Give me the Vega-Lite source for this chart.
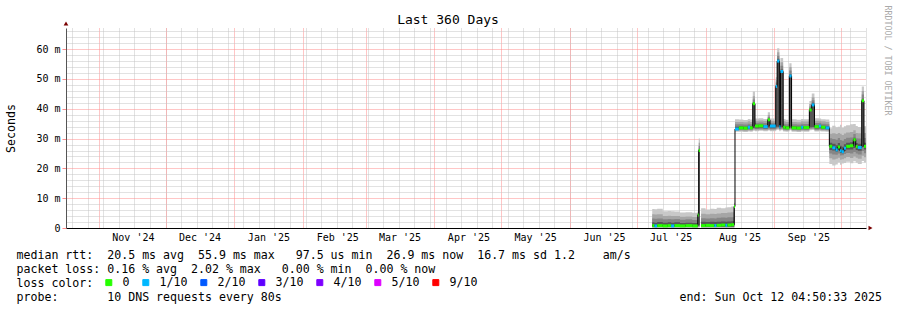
{
  "$schema": "https://vega.github.io/schema/vega-lite/v6.json",
  "width": 800,
  "height": 200,
  "autosize": {"type": "none"},
  "padding": {"left": 66, "top": 28, "right": 31, "bottom": 82},
  "background": "white",
  "config": {
    "view": {"stroke": null},
    "font": "DejaVu Sans Mono",
    "axis": {"labelFont": "DejaVu Sans Mono", "titleFont": "DejaVu Sans Mono"},
    "legend": {"labelFont": "DejaVu Sans Mono", "titleFont": "DejaVu Sans Mono"}
  },
  "data": {
    "format": {"parse": {"t": "date"}},
    "values": [
      {"t":"2025-07-08T00:00:00","med":0.8,"loss":"0","a1":0.05,"a2":0.15,"a3":0.3,"a4":0.45,"b4":1.9,"b3":3.2,"b2":4.6,"b1":6.4},
      {"t":"2025-07-09T00:00:00","med":0.7,"loss":"1/10","a1":0.05,"a2":0.15,"a3":0.3,"a4":0.45,"b4":1.8,"b3":3.1,"b2":4.5,"b1":6.3},
      {"t":"2025-07-10T06:00:00","med":0.8,"loss":"0","a1":0.05,"a2":0.15,"a3":0.3,"a4":0.45,"b4":2.0,"b3":3.2,"b2":4.6,"b1":6.5},
      {"t":"2025-07-12T18:00:00","med":0.7,"loss":"0","a1":0.05,"a2":0.15,"a3":0.3,"a4":0.45,"b4":1.8,"b3":2.9,"b2":4.0,"b1":5.6},
      {"t":"2025-07-15T00:00:00","med":0.8,"loss":"0","a1":0.05,"a2":0.15,"a3":0.3,"a4":0.45,"b4":1.9,"b3":3.0,"b2":4.1,"b1":5.7},
      {"t":"2025-07-16T12:00:00","med":0.7,"loss":"1/10","a1":0.05,"a2":0.15,"a3":0.3,"a4":0.45,"b4":1.8,"b3":2.9,"b2":4.0,"b1":5.6},
      {"t":"2025-07-18T00:00:00","med":0.8,"loss":"0","a1":0.05,"a2":0.15,"a3":0.3,"a4":0.45,"b4":1.9,"b3":3.0,"b2":4.0,"b1":5.5},
      {"t":"2025-07-20T12:00:00","med":0.7,"loss":"0","a1":0.05,"a2":0.15,"a3":0.3,"a4":0.45,"b4":1.7,"b3":2.8,"b2":3.8,"b1":5.2},
      {"t":"2025-07-23T00:00:00","med":0.8,"loss":"0","a1":0.05,"a2":0.15,"a3":0.3,"a4":0.45,"b4":1.8,"b3":2.9,"b2":3.9,"b1":5.3},
      {"t":"2025-07-26T00:00:00","med":0.7,"loss":"0","a1":0.05,"a2":0.15,"a3":0.3,"a4":0.45,"b4":1.7,"b3":2.7,"b2":3.7,"b1":5.1},
      {"t":"2025-07-28T12:00:00","med":4.4,"loss":"0","a1":0.1,"a2":0.3,"a3":0.5,"a4":0.8,"b4":4.7,"b3":5.0,"b2":5.4,"b1":5.8},
      {"t":"2025-07-28T22:00:00","med":26.0,"loss":"0","a1":0.2,"a2":0.4,"a3":0.7,"a4":1.0,"b4":26.6,"b3":27.6,"b2":28.6,"b1":30.0},
      {"t":"2025-07-29T12:00:00","med":26.0,"loss":"0","a1":0.2,"a2":0.4,"a3":0.7,"a4":1.0,"b4":26.6,"b3":27.6,"b2":28.6,"b1":30.0},
      {"t":"2025-07-29T13:00:00","med":null,"loss":null,"a1":null,"a2":null,"a3":null,"a4":null,"b4":null,"b3":null,"b2":null,"b1":null},
      {"t":"2025-07-30T00:00:00","med":0.8,"loss":"0","a1":0.05,"a2":0.15,"a3":0.3,"a4":0.45,"b4":2.1,"b3":3.3,"b2":4.8,"b1":6.6},
      {"t":"2025-08-01T00:00:00","med":0.9,"loss":"0","a1":0.05,"a2":0.15,"a3":0.3,"a4":0.45,"b4":2.0,"b3":3.2,"b2":4.6,"b1":6.2},
      {"t":"2025-08-03T00:00:00","med":0.8,"loss":"0","a1":0.05,"a2":0.15,"a3":0.3,"a4":0.45,"b4":2.1,"b3":3.3,"b2":4.8,"b1":6.5},
      {"t":"2025-08-05T00:00:00","med":0.8,"loss":"1/10","a1":0.05,"a2":0.15,"a3":0.3,"a4":0.45,"b4":2.0,"b3":3.2,"b2":4.7,"b1":6.4},
      {"t":"2025-08-06T00:00:00","med":0.9,"loss":"0","a1":0.05,"a2":0.15,"a3":0.3,"a4":0.45,"b4":2.1,"b3":3.4,"b2":4.9,"b1":6.8},
      {"t":"2025-08-08T00:00:00","med":1.0,"loss":"0","a1":0.05,"a2":0.15,"a3":0.3,"a4":0.45,"b4":2.2,"b3":3.5,"b2":5.0,"b1":6.6},
      {"t":"2025-08-09T22:00:00","med":0.9,"loss":"1/10","a1":0.05,"a2":0.15,"a3":0.3,"a4":0.45,"b4":2.1,"b3":3.4,"b2":5.0,"b1":6.9},
      {"t":"2025-08-10T20:00:00","med":1.0,"loss":"0","a1":0.05,"a2":0.15,"a3":0.3,"a4":0.45,"b4":2.2,"b3":3.6,"b2":5.2,"b1":7.0},
      {"t":"2025-08-12T12:00:00","med":1.1,"loss":"0","a1":0.05,"a2":0.15,"a3":0.3,"a4":0.45,"b4":2.3,"b3":3.6,"b2":5.3,"b1":7.2},
      {"t":"2025-08-13T20:00:00","med":7.2,"loss":"0","a1":0.2,"a2":0.5,"a3":0.8,"a4":1.2,"b4":7.5,"b3":7.8,"b2":8.1,"b1":8.5},
      {"t":"2025-08-14T06:00:00","med":33.2,"loss":"1/10","a1":32.3,"a2":32.6,"a3":32.9,"a4":33.1,"b4":34.0,"b3":34.8,"b2":35.6,"b1":36.5},
      {"t":"2025-08-16T00:00:00","med":33.6,"loss":"0","a1":32.3,"a2":32.6,"a3":32.9,"a4":33.2,"b4":34.1,"b3":34.8,"b2":35.6,"b1":36.4},
      {"t":"2025-08-18T00:00:00","med":33.5,"loss":"0","a1":32.2,"a2":32.5,"a3":32.9,"a4":33.2,"b4":34.0,"b3":34.7,"b2":35.5,"b1":36.2},
      {"t":"2025-08-20T00:00:00","med":33.8,"loss":"1/10","a1":32.4,"a2":32.7,"a3":33.0,"a4":33.3,"b4":34.3,"b3":35.0,"b2":35.8,"b1":36.6},
      {"t":"2025-08-21T00:00:00","med":33.6,"loss":"0","a1":32.3,"a2":32.6,"a3":32.9,"a4":33.2,"b4":34.1,"b3":34.8,"b2":35.6,"b1":36.4},
      {"t":"2025-08-22T06:00:00","med":41.7,"loss":"0","a1":32.6,"a2":33.0,"a3":33.3,"a4":33.6,"b4":42.2,"b3":43.1,"b2":44.2,"b1":45.8},
      {"t":"2025-08-23T06:00:00","med":34.2,"loss":"0","a1":32.5,"a2":32.8,"a3":33.2,"a4":33.5,"b4":34.6,"b3":35.3,"b2":36.0,"b1":36.7},
      {"t":"2025-08-25T00:00:00","med":34.3,"loss":"0","a1":32.6,"a2":32.9,"a3":33.2,"a4":33.6,"b4":34.7,"b3":35.4,"b2":36.1,"b1":36.8},
      {"t":"2025-08-27T00:00:00","med":34.0,"loss":"1/10","a1":32.5,"a2":32.8,"a3":33.1,"a4":33.4,"b4":34.5,"b3":35.2,"b2":35.9,"b1":36.6},
      {"t":"2025-08-29T00:00:00","med":36.3,"loss":"0","a1":32.7,"a2":33.0,"a3":33.3,"a4":33.7,"b4":36.7,"b3":37.2,"b2":37.9,"b1":38.8},
      {"t":"2025-08-30T00:00:00","med":34.2,"loss":"1/10","a1":32.5,"a2":32.8,"a3":33.1,"a4":33.5,"b4":34.6,"b3":35.3,"b2":36.0,"b1":36.7},
      {"t":"2025-09-01T14:00:00","med":47.5,"loss":"1/10","a1":32.8,"a2":33.1,"a3":33.4,"a4":33.8,"b4":48.0,"b3":48.8,"b2":49.6,"b1":50.6},
      {"t":"2025-09-02T05:00:00","med":56.0,"loss":"1/10","a1":33.0,"a2":33.3,"a3":33.6,"a4":34.0,"b4":56.8,"b3":57.8,"b2":59.0,"b1":60.3},
      {"t":"2025-09-03T05:00:00","med":34.0,"loss":"1/10","a1":32.5,"a2":32.8,"a3":33.1,"a4":33.4,"b4":34.4,"b3":35.1,"b2":35.9,"b1":36.6},
      {"t":"2025-09-03T17:00:00","med":52.5,"loss":"1/10","a1":32.8,"a2":33.1,"a3":33.4,"a4":33.8,"b4":53.2,"b3":54.4,"b2":55.6,"b1":57.0},
      {"t":"2025-09-04T22:00:00","med":33.8,"loss":"0","a1":32.4,"a2":32.7,"a3":33.0,"a4":33.3,"b4":34.3,"b3":35.0,"b2":35.8,"b1":36.6},
      {"t":"2025-09-06T00:00:00","med":33.6,"loss":"0","a1":32.3,"a2":32.6,"a3":32.9,"a4":33.2,"b4":34.1,"b3":34.8,"b2":35.6,"b1":36.3},
      {"t":"2025-09-07T17:00:00","med":51.0,"loss":"1/10","a1":32.8,"a2":33.1,"a3":33.4,"a4":33.7,"b4":51.6,"b3":52.8,"b2":54.0,"b1":55.3},
      {"t":"2025-09-08T17:00:00","med":33.6,"loss":"0","a1":32.3,"a2":32.6,"a3":32.9,"a4":33.2,"b4":34.1,"b3":34.8,"b2":35.6,"b1":36.5},
      {"t":"2025-09-11T00:00:00","med":33.5,"loss":"0","a1":32.2,"a2":32.5,"a3":32.9,"a4":33.2,"b4":34.0,"b3":34.7,"b2":35.5,"b1":36.3},
      {"t":"2025-09-13T00:00:00","med":33.8,"loss":"1/10","a1":32.4,"a2":32.7,"a3":33.0,"a4":33.3,"b4":34.3,"b3":35.0,"b2":35.8,"b1":36.6},
      {"t":"2025-09-14T00:00:00","med":33.7,"loss":"0","a1":32.3,"a2":32.6,"a3":32.9,"a4":33.2,"b4":34.2,"b3":34.9,"b2":35.7,"b1":36.5},
      {"t":"2025-09-16T17:00:00","med":39.6,"loss":"0","a1":32.8,"a2":33.1,"a3":33.4,"a4":33.8,"b4":40.1,"b3":40.8,"b2":41.6,"b1":42.6},
      {"t":"2025-09-17T19:00:00","med":41.3,"loss":"1/10","a1":32.9,"a2":33.2,"a3":33.5,"a4":33.9,"b4":42.0,"b3":42.9,"b2":43.9,"b1":45.1},
      {"t":"2025-09-19T00:00:00","med":34.0,"loss":"0","a1":32.4,"a2":32.7,"a3":33.0,"a4":33.4,"b4":34.5,"b3":35.2,"b2":36.0,"b1":36.8},
      {"t":"2025-09-21T00:00:00","med":34.2,"loss":"1/10","a1":32.5,"a2":32.8,"a3":33.1,"a4":33.5,"b4":34.6,"b3":35.3,"b2":36.0,"b1":36.7},
      {"t":"2025-09-22T00:00:00","med":33.8,"loss":"0","a1":32.4,"a2":32.7,"a3":33.0,"a4":33.3,"b4":34.3,"b3":35.0,"b2":35.8,"b1":36.5},
      {"t":"2025-09-24T00:00:00","med":33.6,"loss":"1/10","a1":32.3,"a2":32.6,"a3":32.9,"a4":33.2,"b4":34.1,"b3":34.8,"b2":35.6,"b1":36.4},
      {"t":"2025-09-25T17:00:00","med":27.4,"loss":"0","a1":21.5,"a2":23.4,"a3":25.0,"a4":26.2,"b4":28.6,"b3":30.1,"b2":31.6,"b1":33.5},
      {"t":"2025-09-27T00:00:00","med":26.9,"loss":"1/10","a1":21.0,"a2":23.0,"a3":24.7,"a4":26.0,"b4":28.3,"b3":29.9,"b2":31.8,"b1":34.3},
      {"t":"2025-09-28T12:00:00","med":26.2,"loss":"1/10","a1":21.3,"a2":23.2,"a3":24.6,"a4":25.6,"b4":27.8,"b3":29.6,"b2":31.5,"b1":33.8},
      {"t":"2025-09-29T12:00:00","med":27.2,"loss":"0","a1":22.0,"a2":23.6,"a3":25.0,"a4":26.1,"b4":28.5,"b3":30.2,"b2":31.9,"b1":34.0},
      {"t":"2025-09-30T12:00:00","med":25.9,"loss":"1/10","a1":21.2,"a2":22.9,"a3":24.3,"a4":25.2,"b4":27.6,"b3":29.5,"b2":31.6,"b1":34.6},
      {"t":"2025-10-01T06:00:00","med":25.6,"loss":"1/10","a1":21.6,"a2":23.1,"a3":24.4,"a4":25.1,"b4":27.3,"b3":29.3,"b2":31.2,"b1":33.6},
      {"t":"2025-10-02T06:00:00","med":26.8,"loss":"1/10","a1":21.8,"a2":23.4,"a3":24.8,"a4":25.8,"b4":28.1,"b3":29.9,"b2":31.7,"b1":34.1},
      {"t":"2025-10-03T06:00:00","med":27.4,"loss":"0","a1":22.2,"a2":23.8,"a3":25.2,"a4":26.3,"b4":28.6,"b3":30.3,"b2":32.0,"b1":34.5},
      {"t":"2025-10-05T00:00:00","med":27.6,"loss":"0","a1":21.7,"a2":23.5,"a3":25.0,"a4":26.3,"b4":28.8,"b3":30.4,"b2":32.2,"b1":34.8},
      {"t":"2025-10-06T12:00:00","med":29.6,"loss":"0","a1":22.4,"a2":24.0,"a3":25.5,"a4":26.8,"b4":30.3,"b3":31.5,"b2":32.8,"b1":34.9},
      {"t":"2025-10-07T14:00:00","med":27.3,"loss":"0","a1":21.9,"a2":23.6,"a3":25.0,"a4":26.2,"b4":28.5,"b3":30.1,"b2":31.9,"b1":34.2},
      {"t":"2025-10-08T12:00:00","med":27.0,"loss":"1/10","a1":21.5,"a2":23.2,"a3":24.7,"a4":25.9,"b4":28.3,"b3":30.0,"b2":31.8,"b1":33.9},
      {"t":"2025-10-10T07:00:00","med":42.7,"loss":"0","a1":22.5,"a2":24.2,"a3":25.8,"a4":27.2,"b4":43.4,"b3":44.8,"b2":46.0,"b1":47.5},
      {"t":"2025-10-11T07:00:00","med":27.4,"loss":"0","a1":22.0,"a2":23.7,"a3":25.1,"a4":26.3,"b4":28.6,"b3":30.2,"b2":31.9,"b1":34.1},
      {"t":"2025-10-12T04:50:33","med":27.4,"loss":"0","a1":22.0,"a2":23.7,"a3":25.1,"a4":26.3,"b4":28.6,"b3":30.2,"b2":31.9,"b1":34.1}
    ]
  },
  "layer": [
    {
      "mark": {"type": "area", "interpolate": "step-after", "color": "#c8c8c8", "invalid": "break-paths-show-domains"},
      "encoding": {
        "x": {
          "field": "t", "type": "temporal",
          "scale": {"domain": [{"year": 2024, "month": 10, "date": 17, "hours": 4, "minutes": 50, "seconds": 33}, {"year": 2025, "month": 10, "date": 12, "hours": 4, "minutes": 50, "seconds": 33}], "nice": false},
          "axis": {"orient": "bottom", "tickCount": {"interval": "week", "step": 1}, "grid": true, "gridColor": "#c4c4c4", "gridDash": [1, 1], "labels": false, "ticks": false, "domain": false, "title": null}
        },
        "y": {
          "field": "a1", "type": "quantitative",
          "scale": {"domain": [0, 67.1], "nice": false, "zero": false},
          "axis": {
            "orient": "left",
            "values": [0, 10, 20, 30, 40, 50, 60],
            "grid": true, "gridColor": "#ff8c8c", "gridDash": [1, 1],
            "ticks": true, "tickSize": 4, "tickColor": "#ff8c8c",
            "domain": true, "domainColor": "#555555",
            "labelExpr": "datum.value === 0 ? '0' : datum.value + ' m'",
            "labelFontSize": 10, "labelColor": "black", "labelPadding": 2, "labelOverlap": false, "labelBound": false,
            "title": "Seconds", "titleFontSize": 11.6, "titleFontWeight": "normal", "titleColor": "black",
            "titleX": -55, "titleY": 100, "titleAngle": 270, "titleAlign": "center", "titleBaseline": "middle"
          }
        },
        "y2": {"field": "b1"}
      }
    },
    {
      "mark": {"type": "area", "interpolate": "step-after", "color": "#a6a6a6", "invalid": "break-paths-show-domains"},
      "encoding": {
        "x": {
          "field": "t", "type": "temporal",
          "axis": {"orient": "top", "labels": false, "ticks": false, "domain": false, "grid": false,
            "title": "Last 360 Days", "titleFontSize": 13, "titleFontWeight": "normal", "titleColor": "black",
            "titleX": 381.5, "titleY": -5, "titleAlign": "center", "titleBaseline": "alphabetic", "titleAngle": 0}
        },
        "y": {
          "field": "a2", "type": "quantitative",
          "axis": {
            "orient": "left",
            "values": [2, 4, 6, 8, 12, 14, 16, 18, 22, 24, 26, 28, 32, 34, 36, 38, 42, 44, 46, 48, 52, 54, 56, 58, 62, 64, 66],
            "grid": true, "gridColor": "#c4c4c4", "gridDash": [1, 1],
            "labels": false, "ticks": false, "domain": false, "title": null
          }
        },
        "y2": {"field": "b2"}
      }
    },
    {
      "mark": {"type": "area", "interpolate": "step-after", "color": "#868686", "invalid": "break-paths-show-domains"},
      "encoding": {
        "x": {"field": "t", "type": "temporal", "axis": null},
        "y": {"field": "a3", "type": "quantitative", "axis": null},
        "y2": {"field": "b3"}
      }
    },
    {
      "mark": {"type": "area", "interpolate": "step-after", "color": "#575757", "invalid": "break-paths-show-domains"},
      "encoding": {
        "x": {"field": "t", "type": "temporal", "axis": null},
        "y": {"field": "a4", "type": "quantitative", "axis": null},
        "y2": {"field": "b4"}
      }
    },
    {
      "mark": {"type": "line", "interpolate": "step-after", "color": "#000000", "strokeWidth": 1, "invalid": "break-paths-show-domains"},
      "encoding": {
        "x": {
          "field": "t", "type": "temporal",
          "axis": {
            "orient": "bottom", "tickCount": {"interval": "month", "step": 1},
            "grid": true, "gridColor": "#ff8c8c", "gridDash": [1, 1],
            "ticks": false, "domain": true, "domainColor": "#000000", "domainWidth": 1,
            "labelExpr": "datum.value >= datetime(2025, 9, 1) ? '' : timeFormat(datum.value, \"%b '%y\")",
            "labelOffset": 34, "labelFlush": false, "labelOverlap": false, "labelBound": false,
            "labelPadding": 4, "labelFontSize": 10, "labelColor": "black",
            "title": [
              "median rtt:\u00a0\u00a020.5 ms avg\u00a0\u00a055.9 ms max\u00a0\u00a0\u00a097.5 us min\u00a0\u00a026.9 ms now\u00a0\u00a016.7 ms sd 1.2\u00a0\u00a0\u00a0\u00a0am/s",
              "packet loss: 0.16 % avg\u00a0\u00a02.02 % max\u00a0\u00a0\u00a00.00 % min\u00a0\u00a00.00 % now",
              "loss color:",
              "probe:\u00a0\u00a0\u00a0\u00a0\u00a0\u00a0\u00a010 DNS requests every 80s\u00a0\u00a0\u00a0\u00a0\u00a0\u00a0\u00a0\u00a0\u00a0\u00a0\u00a0\u00a0\u00a0\u00a0\u00a0\u00a0\u00a0\u00a0\u00a0\u00a0\u00a0\u00a0\u00a0\u00a0\u00a0\u00a0\u00a0\u00a0\u00a0\u00a0\u00a0\u00a0\u00a0\u00a0\u00a0\u00a0\u00a0\u00a0\u00a0\u00a0\u00a0\u00a0\u00a0\u00a0\u00a0\u00a0\u00a0\u00a0\u00a0\u00a0\u00a0\u00a0\u00a0\u00a0\u00a0\u00a0\u00a0end: Sun Oct 12 04:50:33 2025"
            ],
            "titleX": -50, "titleY": 30, "titleAlign": "left", "titleAnchor": "start", "titleBaseline": "alphabetic",
            "titleLineHeight": 14, "titleFontSize": 11.6, "titleFontWeight": "normal", "titleColor": "black"
          }
        },
        "y": {
          "field": "med", "type": "quantitative",
          "axis": {"orient": "right", "labels": false, "ticks": false, "domain": false, "grid": false,
            "title": "RRDTOOL / TOBI OETIKER", "titleFontSize": 8.3, "titleFontWeight": "normal", "titleColor": "#aaaaaa",
            "titleX": 20, "titleY": 32, "titleAngle": 90, "titleAlign": "center", "titleBaseline": "middle"}
        }
      }
    },
    {
      "transform": [
        {"window": [{"op": "lead", "field": "t", "as": "t2"}], "sort": [{"field": "t", "order": "ascending"}]},
        {"filter": "isValid(datum.med) && isValid(datum.t2)"}
      ],
      "mark": {"type": "rule", "strokeWidth": 3, "strokeCap": "butt"},
      "encoding": {
        "x": {"field": "t", "type": "temporal", "axis": null},
        "x2": {"field": "t2"},
        "y": {"field": "med", "type": "quantitative", "axis": null},
        "color": {
          "field": "loss", "type": "nominal",
          "scale": {"domain": ["0", "1/10", "2/10", "3/10", "4/10", "5/10", "9/10"], "range": ["#26ff00", "#00b8ff", "#0059ff", "#5e00ff", "#7e00ff", "#dd00ff", "#ff0000"]},
          "legend": {
            "orient": "none", "legendX": 37, "legendY": 248.5, "direction": "horizontal",
            "title": null,
            "labelExpr": "datum.label === '0' ? '0\u00a0' : datum.label",
            "labelFontSize": 11.6, "labelColor": "black", "labelOffset": 8, "columnPadding": 10,
            "symbolType": "square", "symbolSize": 36, "symbolStrokeColor": "black", "symbolStrokeWidth": 1,
            "padding": 0,
            "encode": {"symbols": {"update": {"fill": {"scale": "color", "field": "value"}, "stroke": {"value": "black"}, "strokeWidth": {"value": 1}, "opacity": {"value": 1}, "shape": {"value": "square"}}}}
          }
        }
      }
    },
    {
      "data": {"values": [{}]},
      "mark": {"type": "point", "shape": "triangle-up", "filled": true, "color": "#7a0000", "size": 22, "opacity": 1, "yOffset": -4.5, "clip": false},
      "encoding": {
        "x": {"datum": {"year": 2024, "month": 10, "date": 17, "hours": 4, "minutes": 50, "seconds": 33}, "type": "temporal", "axis": null},
        "y": {"datum": 67.1, "type": "quantitative", "axis": null}
      }
    },
    {
      "data": {"values": [{}]},
      "mark": {"type": "point", "shape": "triangle-right", "filled": true, "color": "#7a0000", "size": 22, "opacity": 1, "xOffset": 4.5, "clip": false},
      "encoding": {
        "x": {"datum": {"year": 2025, "month": 10, "date": 12, "hours": 4, "minutes": 50, "seconds": 33}, "type": "temporal", "axis": null},
        "y": {"datum": 0, "type": "quantitative", "axis": null}
      }
    }
  ],
  "resolve": {"axis": {"x": "independent", "y": "independent"}}
}
